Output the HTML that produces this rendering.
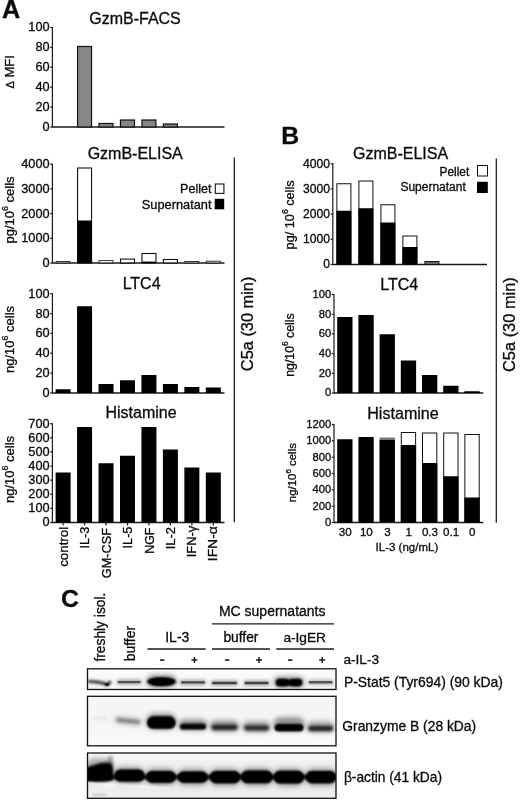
<!DOCTYPE html>
<html><head><meta charset="utf-8"><title>Figure</title>
<style>
html,body{margin:0;padding:0;background:#fff;}
body{width:520px;height:802px;overflow:hidden;font-family:"Liberation Sans",sans-serif;}
svg{display:block;filter:blur(0.35px);}
svg text{font-family:"Liberation Sans",sans-serif;fill:#0a0a0a;stroke:#0a0a0a;stroke-width:0.3px;}
</style></head><body>
<svg width="520" height="802" viewBox="0 0 520 802">
<defs>
<filter id="b05" x="-30%" y="-150%" width="160%" height="400%"><feGaussianBlur stdDeviation="0.55"/></filter>
<filter id="b08" x="-30%" y="-150%" width="160%" height="400%"><feGaussianBlur stdDeviation="0.75"/></filter>
<filter id="b1" x="-30%" y="-100%" width="160%" height="300%"><feGaussianBlur stdDeviation="0.9"/></filter>
<filter id="b2" x="-30%" y="-150%" width="160%" height="400%"><feGaussianBlur stdDeviation="1.4"/></filter>
<filter id="b3" x="-40%" y="-150%" width="180%" height="400%"><feGaussianBlur stdDeviation="2.4"/></filter>
<linearGradient id="g1" x1="0" y1="0" x2="0" y2="1"><stop offset="0" stop-color="#fdfdfd"/><stop offset="1" stop-color="#f3f3f3"/></linearGradient>
<linearGradient id="g2" x1="0" y1="0" x2="0" y2="1"><stop offset="0" stop-color="#f6f6f6"/><stop offset="0.5" stop-color="#f4f4f4"/><stop offset="1" stop-color="#fafafa"/></linearGradient>
<linearGradient id="g3" x1="0" y1="0" x2="0" y2="1"><stop offset="0" stop-color="#f7f7f7"/><stop offset="0.35" stop-color="#ebebeb"/><stop offset="0.7" stop-color="#e9e9e9"/><stop offset="1" stop-color="#efefef"/></linearGradient>
<clipPath id="c1"><rect x="87.5" y="668.8" width="248.5" height="20.700000000000045"/></clipPath>
<clipPath id="c2"><rect x="87.5" y="696.3" width="248.5" height="49.5"/></clipPath>
<clipPath id="c3"><rect x="87.5" y="753.0" width="248.5" height="45.299999999999955"/></clipPath>
<clipPath id="call"><rect x="87.5" y="668.8" width="248.5" height="20.700000000000045"/><rect x="87.5" y="696.3" width="248.5" height="49.5"/><rect x="87.5" y="753.0" width="248.5" height="45.299999999999955"/></clipPath>
</defs>
<rect width="520" height="802" fill="#fff"/>
<text x="2.0" y="18.4" font-size="25.2" text-anchor="start" font-weight="bold">A</text>
<text x="135" y="23.7" font-size="16" text-anchor="middle" font-weight="normal">GzmB-FACS</text>
<line x1="52.4" y1="26.9" x2="52.4" y2="127.6" stroke="#1a1a1a" stroke-width="1.2"/>
<line x1="50.199999999999996" y1="127.0" x2="52.4" y2="127.0" stroke="#1a1a1a" stroke-width="1.2"/>
<text x="49.599999999999994" y="130.99" font-size="12.75" text-anchor="end" font-weight="normal">0</text>
<line x1="50.199999999999996" y1="107.1" x2="52.4" y2="107.1" stroke="#1a1a1a" stroke-width="1.2"/>
<text x="49.599999999999994" y="111.09" font-size="12.75" text-anchor="end" font-weight="normal">20</text>
<line x1="50.199999999999996" y1="87.2" x2="52.4" y2="87.2" stroke="#1a1a1a" stroke-width="1.2"/>
<text x="49.599999999999994" y="91.19000000000001" font-size="12.75" text-anchor="end" font-weight="normal">40</text>
<line x1="50.199999999999996" y1="67.3" x2="52.4" y2="67.3" stroke="#1a1a1a" stroke-width="1.2"/>
<text x="49.599999999999994" y="71.29" font-size="12.75" text-anchor="end" font-weight="normal">60</text>
<line x1="50.199999999999996" y1="47.400000000000006" x2="52.4" y2="47.400000000000006" stroke="#1a1a1a" stroke-width="1.2"/>
<text x="49.599999999999994" y="51.39000000000001" font-size="12.75" text-anchor="end" font-weight="normal">80</text>
<line x1="50.199999999999996" y1="27.5" x2="52.4" y2="27.5" stroke="#1a1a1a" stroke-width="1.2"/>
<text x="49.599999999999994" y="31.490000000000002" font-size="12.75" text-anchor="end" font-weight="normal">100</text>
<line x1="52.4" y1="127.0" x2="224.5" y2="126.9" stroke="#1a1a1a" stroke-width="1.45"/>
<rect x="77.56" y="46.50" width="14.00" height="80.50" fill="#868686" stroke="#111" stroke-width="1.2"/>
<rect x="99.02" y="123.50" width="14.00" height="3.50" fill="#868686" stroke="#111" stroke-width="1.2"/>
<rect x="120.48" y="120.00" width="14.00" height="7.00" fill="#868686" stroke="#111" stroke-width="1.2"/>
<rect x="141.94" y="120.00" width="14.00" height="7.00" fill="#868686" stroke="#111" stroke-width="1.2"/>
<rect x="163.40" y="124.00" width="14.00" height="3.00" fill="#868686" stroke="#111" stroke-width="1.2"/>
<text x="14.4" y="71.8" font-size="13.0" text-anchor="middle" font-weight="normal" transform="rotate(-90 14.4 71.8)"><tspan font-size="11">&#916;</tspan> MFI</text>
<text x="135.2" y="159.0" font-size="16" text-anchor="middle" font-weight="normal">GzmB-ELISA</text>
<line x1="52.4" y1="163.65" x2="52.4" y2="263.6" stroke="#1a1a1a" stroke-width="1.2"/>
<line x1="50.199999999999996" y1="263.0" x2="52.4" y2="263.0" stroke="#1a1a1a" stroke-width="1.2"/>
<text x="49.599999999999994" y="266.98999999999995" font-size="12.75" text-anchor="end" font-weight="normal">0</text>
<line x1="50.199999999999996" y1="238.3125" x2="52.4" y2="238.3125" stroke="#1a1a1a" stroke-width="1.2"/>
<text x="49.599999999999994" y="242.3025" font-size="12.75" text-anchor="end" font-weight="normal">1000</text>
<line x1="50.199999999999996" y1="213.625" x2="52.4" y2="213.625" stroke="#1a1a1a" stroke-width="1.2"/>
<text x="49.599999999999994" y="217.615" font-size="12.75" text-anchor="end" font-weight="normal">2000</text>
<line x1="50.199999999999996" y1="188.9375" x2="52.4" y2="188.9375" stroke="#1a1a1a" stroke-width="1.2"/>
<text x="49.599999999999994" y="192.9275" font-size="12.75" text-anchor="end" font-weight="normal">3000</text>
<line x1="50.199999999999996" y1="164.25" x2="52.4" y2="164.25" stroke="#1a1a1a" stroke-width="1.2"/>
<text x="49.599999999999994" y="168.24" font-size="12.75" text-anchor="end" font-weight="normal">4000</text>
<line x1="52.4" y1="263.0" x2="224.5" y2="262.9" stroke="#1a1a1a" stroke-width="1.45"/>
<rect x="56.10" y="261.50" width="14.00" height="1.50" fill="#fff" stroke="#222" stroke-width="0.9"/>
<rect x="56.10" y="262.80" width="14.00" height="0.30" fill="#000" stroke="none" stroke-width="0"/>
<rect x="77.56" y="168.00" width="14.00" height="95.00" fill="#fff" stroke="#111" stroke-width="1.1"/>
<rect x="77.56" y="220.50" width="14.00" height="42.50" fill="#000" stroke="none" stroke-width="0"/>
<rect x="99.02" y="260.60" width="14.00" height="2.40" fill="#fff" stroke="#222" stroke-width="0.9"/>
<rect x="99.02" y="262.80" width="14.00" height="0.30" fill="#000" stroke="none" stroke-width="0"/>
<rect x="120.48" y="259.10" width="14.00" height="3.90" fill="#fff" stroke="#111" stroke-width="1.1"/>
<rect x="120.48" y="262.80" width="14.00" height="0.30" fill="#000" stroke="none" stroke-width="0"/>
<rect x="141.94" y="253.50" width="14.00" height="9.50" fill="#fff" stroke="#111" stroke-width="1.1"/>
<rect x="141.94" y="261.60" width="14.00" height="1.40" fill="#000" stroke="none" stroke-width="0"/>
<rect x="163.40" y="259.50" width="14.00" height="3.50" fill="#fff" stroke="#111" stroke-width="1.1"/>
<rect x="163.40" y="262.80" width="14.00" height="0.30" fill="#000" stroke="none" stroke-width="0"/>
<rect x="184.86" y="261.50" width="14.00" height="1.50" fill="#fff" stroke="#222" stroke-width="0.9"/>
<rect x="184.86" y="262.80" width="14.00" height="0.30" fill="#000" stroke="none" stroke-width="0"/>
<rect x="206.32" y="261.20" width="14.00" height="1.80" fill="#fff" stroke="#222" stroke-width="0.9"/>
<rect x="206.32" y="262.80" width="14.00" height="0.30" fill="#000" stroke="none" stroke-width="0"/>
<text x="14.2" y="210" font-size="13" text-anchor="middle" font-weight="normal" transform="rotate(-90 14.2 210)">pg/10<tspan font-size="8.8" dy="-6.4">6</tspan><tspan dy="6.4"> cells</tspan></text>
<text x="211.5" y="193" font-size="12.6" text-anchor="end" font-weight="normal">Pellet</text>
<rect x="215.30" y="184.00" width="8.60" height="9.40" fill="#fff" stroke="#111" stroke-width="1.1"/>
<text x="211.5" y="208.8" font-size="12.8" text-anchor="end" font-weight="normal">Supernatant</text>
<rect x="214.70" y="198.80" width="9.50" height="10.50" fill="#000" stroke="none" stroke-width="0"/>
<text x="141.6" y="289.3" font-size="16" text-anchor="middle" font-weight="normal">LTC4</text>
<line x1="52.4" y1="293.15" x2="52.4" y2="393.6" stroke="#1a1a1a" stroke-width="1.2"/>
<line x1="50.199999999999996" y1="393.0" x2="52.4" y2="393.0" stroke="#1a1a1a" stroke-width="1.2"/>
<text x="49.599999999999994" y="396.98999999999995" font-size="12.75" text-anchor="end" font-weight="normal">0</text>
<line x1="50.199999999999996" y1="373.15" x2="52.4" y2="373.15" stroke="#1a1a1a" stroke-width="1.2"/>
<text x="49.599999999999994" y="377.13999999999993" font-size="12.75" text-anchor="end" font-weight="normal">20</text>
<line x1="50.199999999999996" y1="353.3" x2="52.4" y2="353.3" stroke="#1a1a1a" stroke-width="1.2"/>
<text x="49.599999999999994" y="357.28999999999996" font-size="12.75" text-anchor="end" font-weight="normal">40</text>
<line x1="50.199999999999996" y1="333.45" x2="52.4" y2="333.45" stroke="#1a1a1a" stroke-width="1.2"/>
<text x="49.599999999999994" y="337.43999999999994" font-size="12.75" text-anchor="end" font-weight="normal">60</text>
<line x1="50.199999999999996" y1="313.6" x2="52.4" y2="313.6" stroke="#1a1a1a" stroke-width="1.2"/>
<text x="49.599999999999994" y="317.59" font-size="12.75" text-anchor="end" font-weight="normal">80</text>
<line x1="50.199999999999996" y1="293.75" x2="52.4" y2="293.75" stroke="#1a1a1a" stroke-width="1.2"/>
<text x="49.599999999999994" y="297.73999999999995" font-size="12.75" text-anchor="end" font-weight="normal">100</text>
<line x1="52.4" y1="393.0" x2="224.5" y2="392.9" stroke="#1a1a1a" stroke-width="1.45"/>
<rect x="55.60" y="389.25" width="15.00" height="3.75" fill="#000" stroke="none" stroke-width="0"/>
<rect x="77.06" y="306.25" width="15.00" height="86.75" fill="#000" stroke="none" stroke-width="0"/>
<rect x="98.52" y="384.00" width="15.00" height="9.00" fill="#000" stroke="none" stroke-width="0"/>
<rect x="119.98" y="380.25" width="15.00" height="12.75" fill="#000" stroke="none" stroke-width="0"/>
<rect x="141.44" y="375.00" width="15.00" height="18.00" fill="#000" stroke="none" stroke-width="0"/>
<rect x="162.90" y="384.00" width="15.00" height="9.00" fill="#000" stroke="none" stroke-width="0"/>
<rect x="184.36" y="387.00" width="15.00" height="6.00" fill="#000" stroke="none" stroke-width="0"/>
<rect x="205.82" y="387.50" width="15.00" height="5.50" fill="#000" stroke="none" stroke-width="0"/>
<text x="14.2" y="339.5" font-size="13" text-anchor="middle" font-weight="normal" transform="rotate(-90 14.2 339.5)">ng/10<tspan font-size="8.8" dy="-6.4">6</tspan><tspan dy="6.4"> cells</tspan></text>
<text x="141" y="418" font-size="16" text-anchor="middle" font-weight="normal">Histamine</text>
<line x1="52.4" y1="423.15" x2="52.4" y2="523.1" stroke="#1a1a1a" stroke-width="1.2"/>
<line x1="50.199999999999996" y1="522.5" x2="52.4" y2="522.5" stroke="#1a1a1a" stroke-width="1.2"/>
<text x="49.599999999999994" y="526.49" font-size="12.75" text-anchor="end" font-weight="normal">0</text>
<line x1="50.199999999999996" y1="508.39285714285717" x2="52.4" y2="508.39285714285717" stroke="#1a1a1a" stroke-width="1.2"/>
<text x="49.599999999999994" y="512.3828571428571" font-size="12.75" text-anchor="end" font-weight="normal">100</text>
<line x1="50.199999999999996" y1="494.2857142857143" x2="52.4" y2="494.2857142857143" stroke="#1a1a1a" stroke-width="1.2"/>
<text x="49.599999999999994" y="498.27571428571423" font-size="12.75" text-anchor="end" font-weight="normal">200</text>
<line x1="50.199999999999996" y1="480.17857142857144" x2="52.4" y2="480.17857142857144" stroke="#1a1a1a" stroke-width="1.2"/>
<text x="49.599999999999994" y="484.1685714285714" font-size="12.75" text-anchor="end" font-weight="normal">300</text>
<line x1="50.199999999999996" y1="466.07142857142856" x2="52.4" y2="466.07142857142856" stroke="#1a1a1a" stroke-width="1.2"/>
<text x="49.599999999999994" y="470.0614285714285" font-size="12.75" text-anchor="end" font-weight="normal">400</text>
<line x1="50.199999999999996" y1="451.9642857142857" x2="52.4" y2="451.9642857142857" stroke="#1a1a1a" stroke-width="1.2"/>
<text x="49.599999999999994" y="455.9542857142857" font-size="12.75" text-anchor="end" font-weight="normal">500</text>
<line x1="50.199999999999996" y1="437.8571428571429" x2="52.4" y2="437.8571428571429" stroke="#1a1a1a" stroke-width="1.2"/>
<text x="49.599999999999994" y="441.84714285714284" font-size="12.75" text-anchor="end" font-weight="normal">600</text>
<line x1="50.199999999999996" y1="423.75" x2="52.4" y2="423.75" stroke="#1a1a1a" stroke-width="1.2"/>
<text x="49.599999999999994" y="427.73999999999995" font-size="12.75" text-anchor="end" font-weight="normal">700</text>
<line x1="52.4" y1="522.5" x2="224.5" y2="522.4" stroke="#1a1a1a" stroke-width="1.45"/>
<rect x="55.60" y="472.50" width="15.00" height="50.00" fill="#000" stroke="none" stroke-width="0"/>
<rect x="77.06" y="427.00" width="15.00" height="95.50" fill="#000" stroke="none" stroke-width="0"/>
<rect x="98.52" y="463.25" width="15.00" height="59.25" fill="#000" stroke="none" stroke-width="0"/>
<rect x="119.98" y="455.75" width="15.00" height="66.75" fill="#000" stroke="none" stroke-width="0"/>
<rect x="141.44" y="427.00" width="15.00" height="95.50" fill="#000" stroke="none" stroke-width="0"/>
<rect x="162.90" y="449.50" width="15.00" height="73.00" fill="#000" stroke="none" stroke-width="0"/>
<rect x="184.36" y="467.50" width="15.00" height="55.00" fill="#000" stroke="none" stroke-width="0"/>
<rect x="205.82" y="472.50" width="15.00" height="50.00" fill="#000" stroke="none" stroke-width="0"/>
<text x="14.2" y="469.5" font-size="13" text-anchor="middle" font-weight="normal" transform="rotate(-90 14.2 469.5)">ng/10<tspan font-size="8.8" dy="-6.4">6</tspan><tspan dy="6.4"> cells</tspan></text>
<line x1="63.1" y1="522.5" x2="63.1" y2="525.5" stroke="#1a1a1a" stroke-width="1.2"/>
<text x="67.7" y="526.8" font-size="12.8" text-anchor="end" font-weight="normal" transform="rotate(-90 67.7 526.8)" textLength="40" lengthAdjust="spacingAndGlyphs">control</text>
<line x1="84.56" y1="522.5" x2="84.56" y2="525.5" stroke="#1a1a1a" stroke-width="1.2"/>
<text x="89.16" y="526.8" font-size="12.8" text-anchor="end" font-weight="normal" transform="rotate(-90 89.16 526.8)" textLength="21.8" lengthAdjust="spacingAndGlyphs">IL-3</text>
<line x1="106.02000000000001" y1="522.5" x2="106.02000000000001" y2="525.5" stroke="#1a1a1a" stroke-width="1.2"/>
<text x="110.92000000000002" y="528.0" font-size="12.8" text-anchor="end" font-weight="normal" transform="rotate(-90 110.92000000000002 528.0)" textLength="50.2" lengthAdjust="spacingAndGlyphs">GM-CSF</text>
<line x1="127.47999999999999" y1="522.5" x2="127.47999999999999" y2="525.5" stroke="#1a1a1a" stroke-width="1.2"/>
<text x="132.07999999999998" y="526.6" font-size="12.8" text-anchor="end" font-weight="normal" transform="rotate(-90 132.07999999999998 526.6)" textLength="21.8" lengthAdjust="spacingAndGlyphs">IL-5</text>
<line x1="148.94" y1="522.5" x2="148.94" y2="525.5" stroke="#1a1a1a" stroke-width="1.2"/>
<text x="153.54" y="527.6" font-size="12.8" text-anchor="end" font-weight="normal" transform="rotate(-90 153.54 527.6)" textLength="26.2" lengthAdjust="spacingAndGlyphs">NGF</text>
<line x1="170.4" y1="522.5" x2="170.4" y2="525.5" stroke="#1a1a1a" stroke-width="1.2"/>
<text x="175.0" y="527.0" font-size="12.8" text-anchor="end" font-weight="normal" transform="rotate(-90 175.0 527.0)" textLength="22.2" lengthAdjust="spacingAndGlyphs">IL-2</text>
<line x1="191.85999999999999" y1="522.5" x2="191.85999999999999" y2="525.5" stroke="#1a1a1a" stroke-width="1.2"/>
<text x="196.45999999999998" y="525.7" font-size="12.8" text-anchor="end" font-weight="normal" transform="rotate(-90 196.45999999999998 525.7)" textLength="31.6" lengthAdjust="spacingAndGlyphs">IFN-&#947;</text>
<line x1="213.32" y1="522.5" x2="213.32" y2="525.5" stroke="#1a1a1a" stroke-width="1.2"/>
<text x="217.32" y="526.2" font-size="12.8" text-anchor="end" font-weight="normal" transform="rotate(-90 217.32 526.2)" textLength="35.0" lengthAdjust="spacingAndGlyphs">IFN-&#945;</text>
<line x1="234.3" y1="157.5" x2="234.3" y2="522.3" stroke="#1a1a1a" stroke-width="1.25"/>
<text x="252.9" y="323.9" font-size="16.35" text-anchor="middle" font-weight="normal" transform="rotate(-90 252.9 323.9)">C5a (30 min)</text>
<text x="281.3" y="144.3" font-size="24.8" text-anchor="start" font-weight="bold">B</text>
<text x="400.6" y="158.75" font-size="16" text-anchor="middle" font-weight="normal">GzmB-ELISA</text>
<line x1="332.8" y1="163.15" x2="332.8" y2="265.1" stroke="#1a1a1a" stroke-width="1.2"/>
<line x1="330.6" y1="264.5" x2="332.8" y2="264.5" stroke="#1a1a1a" stroke-width="1.2"/>
<text x="330.0" y="268.256" font-size="12.1" text-anchor="end" font-weight="normal">0</text>
<line x1="330.6" y1="239.3125" x2="332.8" y2="239.3125" stroke="#1a1a1a" stroke-width="1.2"/>
<text x="330.0" y="243.0685" font-size="12.1" text-anchor="end" font-weight="normal">1000</text>
<line x1="330.6" y1="214.125" x2="332.8" y2="214.125" stroke="#1a1a1a" stroke-width="1.2"/>
<text x="330.0" y="217.881" font-size="12.1" text-anchor="end" font-weight="normal">2000</text>
<line x1="330.6" y1="188.9375" x2="332.8" y2="188.9375" stroke="#1a1a1a" stroke-width="1.2"/>
<text x="330.0" y="192.6935" font-size="12.1" text-anchor="end" font-weight="normal">3000</text>
<line x1="330.6" y1="163.75" x2="332.8" y2="163.75" stroke="#1a1a1a" stroke-width="1.2"/>
<text x="330.0" y="167.506" font-size="12.1" text-anchor="end" font-weight="normal">4000</text>
<line x1="332.8" y1="264.5" x2="487" y2="264.4" stroke="#1a1a1a" stroke-width="1.45"/>
<rect x="336.90" y="183.75" width="14.00" height="80.75" fill="#fff" stroke="#111" stroke-width="1"/>
<rect x="336.40" y="210.75" width="15.00" height="53.75" fill="#000" stroke="none" stroke-width="0"/>
<rect x="358.90" y="181.00" width="14.00" height="83.50" fill="#fff" stroke="#111" stroke-width="1"/>
<rect x="358.40" y="208.25" width="15.00" height="56.25" fill="#000" stroke="none" stroke-width="0"/>
<rect x="380.90" y="204.75" width="14.00" height="59.75" fill="#fff" stroke="#111" stroke-width="1"/>
<rect x="380.40" y="222.50" width="15.00" height="42.00" fill="#000" stroke="none" stroke-width="0"/>
<rect x="402.90" y="236.00" width="14.00" height="28.50" fill="#fff" stroke="#111" stroke-width="1"/>
<rect x="402.40" y="247.00" width="15.00" height="17.50" fill="#000" stroke="none" stroke-width="0"/>
<rect x="424.90" y="261.55" width="14.00" height="2.95" fill="#6a6a6a" stroke="#111" stroke-width="1"/>
<text x="294.4" y="214.9" font-size="12.7" text-anchor="middle" font-weight="normal" transform="rotate(-90 294.4 214.9)">pg/ 10<tspan font-size="8.6" dy="-6.2">6</tspan><tspan dy="6.2"> cells</tspan></text>
<text x="469.3" y="175.6" font-size="11.9" text-anchor="end" font-weight="normal">Pellet</text>
<rect x="477.50" y="165.50" width="10.00" height="10.50" fill="#fff" stroke="#111" stroke-width="1"/>
<text x="465.8" y="191.1" font-size="12.0" text-anchor="end" font-weight="normal">Supernatant</text>
<rect x="477.00" y="181.80" width="10.80" height="11.20" fill="#000" stroke="none" stroke-width="0"/>
<text x="399.3" y="289.5" font-size="16" text-anchor="middle" font-weight="normal">LTC4</text>
<line x1="334.0" y1="293.9" x2="334.0" y2="393.6" stroke="#1a1a1a" stroke-width="1.2"/>
<line x1="331.8" y1="393.0" x2="334.0" y2="393.0" stroke="#1a1a1a" stroke-width="1.2"/>
<text x="331.2" y="396.43199999999996" font-size="11.2" text-anchor="end" font-weight="normal">0</text>
<line x1="331.8" y1="373.3" x2="334.0" y2="373.3" stroke="#1a1a1a" stroke-width="1.2"/>
<text x="331.2" y="376.73199999999997" font-size="11.2" text-anchor="end" font-weight="normal">20</text>
<line x1="331.8" y1="353.6" x2="334.0" y2="353.6" stroke="#1a1a1a" stroke-width="1.2"/>
<text x="331.2" y="357.032" font-size="11.2" text-anchor="end" font-weight="normal">40</text>
<line x1="331.8" y1="333.9" x2="334.0" y2="333.9" stroke="#1a1a1a" stroke-width="1.2"/>
<text x="331.2" y="337.33199999999994" font-size="11.2" text-anchor="end" font-weight="normal">60</text>
<line x1="331.8" y1="314.2" x2="334.0" y2="314.2" stroke="#1a1a1a" stroke-width="1.2"/>
<text x="331.2" y="317.63199999999995" font-size="11.2" text-anchor="end" font-weight="normal">80</text>
<line x1="331.8" y1="294.5" x2="334.0" y2="294.5" stroke="#1a1a1a" stroke-width="1.2"/>
<text x="331.2" y="297.93199999999996" font-size="11.2" text-anchor="end" font-weight="normal">100</text>
<line x1="334.0" y1="393.0" x2="483.3" y2="392.9" stroke="#1a1a1a" stroke-width="1.45"/>
<rect x="337.20" y="317.00" width="15.30" height="76.00" fill="#000" stroke="none" stroke-width="0"/>
<rect x="358.40" y="315.00" width="15.30" height="78.00" fill="#000" stroke="none" stroke-width="0"/>
<rect x="379.60" y="334.25" width="15.30" height="58.75" fill="#000" stroke="none" stroke-width="0"/>
<rect x="400.80" y="360.50" width="15.30" height="32.50" fill="#000" stroke="none" stroke-width="0"/>
<rect x="422.00" y="375.00" width="15.30" height="18.00" fill="#000" stroke="none" stroke-width="0"/>
<rect x="443.20" y="385.75" width="15.30" height="7.25" fill="#000" stroke="none" stroke-width="0"/>
<rect x="464.40" y="391.25" width="15.30" height="1.75" fill="#000" stroke="none" stroke-width="0"/>
<text x="294" y="345" font-size="12.3" text-anchor="middle" font-weight="normal" transform="rotate(-90 294 345)">ng/10<tspan font-size="8.4" dy="-6.0">6</tspan><tspan dy="6.0"> cells</tspan></text>
<text x="403.0" y="419.2" font-size="16.1" text-anchor="middle" font-weight="normal">Histamine</text>
<line x1="334.0" y1="423.9" x2="334.0" y2="523.1" stroke="#1a1a1a" stroke-width="1.2"/>
<line x1="331.8" y1="522.5" x2="334.0" y2="522.5" stroke="#1a1a1a" stroke-width="1.2"/>
<text x="331.2" y="525.932" font-size="11.2" text-anchor="end" font-weight="normal">0</text>
<line x1="331.8" y1="506.1666666666667" x2="334.0" y2="506.1666666666667" stroke="#1a1a1a" stroke-width="1.2"/>
<text x="331.2" y="509.59866666666665" font-size="11.2" text-anchor="end" font-weight="normal">200</text>
<line x1="331.8" y1="489.8333333333333" x2="334.0" y2="489.8333333333333" stroke="#1a1a1a" stroke-width="1.2"/>
<text x="331.2" y="493.2653333333333" font-size="11.2" text-anchor="end" font-weight="normal">400</text>
<line x1="331.8" y1="473.5" x2="334.0" y2="473.5" stroke="#1a1a1a" stroke-width="1.2"/>
<text x="331.2" y="476.93199999999996" font-size="11.2" text-anchor="end" font-weight="normal">600</text>
<line x1="331.8" y1="457.1666666666667" x2="334.0" y2="457.1666666666667" stroke="#1a1a1a" stroke-width="1.2"/>
<text x="331.2" y="460.59866666666665" font-size="11.2" text-anchor="end" font-weight="normal">800</text>
<line x1="331.8" y1="440.8333333333333" x2="334.0" y2="440.8333333333333" stroke="#1a1a1a" stroke-width="1.2"/>
<text x="331.2" y="444.2653333333333" font-size="11.2" text-anchor="end" font-weight="normal">1000</text>
<line x1="331.8" y1="424.5" x2="334.0" y2="424.5" stroke="#1a1a1a" stroke-width="1.2"/>
<text x="331.2" y="427.93199999999996" font-size="11.2" text-anchor="end" font-weight="normal">1200</text>
<line x1="334.0" y1="522.5" x2="483.3" y2="522.4" stroke="#1a1a1a" stroke-width="1.45"/>
<rect x="337.20" y="439.25" width="15.30" height="83.25" fill="#000" stroke="none" stroke-width="0"/>
<rect x="358.40" y="437.00" width="15.30" height="85.50" fill="#000" stroke="none" stroke-width="0"/>
<rect x="379.60" y="437.50" width="15.30" height="85.00" fill="#777" stroke="none" stroke-width="0"/>
<rect x="379.60" y="440.00" width="15.30" height="82.50" fill="#000" stroke="none" stroke-width="0"/>
<rect x="401.30" y="432.50" width="14.30" height="90.00" fill="#fff" stroke="#111" stroke-width="1"/>
<rect x="400.80" y="445.00" width="15.30" height="77.50" fill="#000" stroke="none" stroke-width="0"/>
<rect x="422.50" y="433.00" width="14.30" height="89.50" fill="#fff" stroke="#111" stroke-width="1"/>
<rect x="422.00" y="463.00" width="15.30" height="59.50" fill="#000" stroke="none" stroke-width="0"/>
<rect x="443.70" y="433.00" width="14.30" height="89.50" fill="#fff" stroke="#111" stroke-width="1"/>
<rect x="443.20" y="476.25" width="15.30" height="46.25" fill="#000" stroke="none" stroke-width="0"/>
<rect x="464.90" y="434.50" width="14.30" height="88.00" fill="#fff" stroke="#111" stroke-width="1"/>
<rect x="464.40" y="497.50" width="15.30" height="25.00" fill="#000" stroke="none" stroke-width="0"/>
<text x="296.3" y="472.6" font-size="11.45" text-anchor="middle" font-weight="normal" transform="rotate(-90 296.3 472.6)">ng/10<tspan font-size="7.9" dy="-5.6">6</tspan><tspan dy="5.6"> cells</tspan></text>
<text x="345.15" y="535.8" font-size="11.6" text-anchor="middle" font-weight="normal">30</text>
<text x="366.34999999999997" y="535.8" font-size="11.6" text-anchor="middle" font-weight="normal">10</text>
<text x="387.54999999999995" y="535.8" font-size="11.6" text-anchor="middle" font-weight="normal">3</text>
<text x="408.74999999999994" y="535.8" font-size="11.6" text-anchor="middle" font-weight="normal">1</text>
<text x="429.95" y="535.8" font-size="11.6" text-anchor="middle" font-weight="normal">0.3</text>
<text x="451.15" y="535.8" font-size="11.6" text-anchor="middle" font-weight="normal">0.1</text>
<text x="472.34999999999997" y="535.8" font-size="11.6" text-anchor="middle" font-weight="normal">0</text>
<text x="406.9" y="551.4" font-size="11.5" text-anchor="middle" font-weight="normal">IL-3 (ng/mL)</text>
<line x1="496.3" y1="158.5" x2="496.3" y2="522.7" stroke="#1a1a1a" stroke-width="1.25"/>
<text x="515.3" y="324.6" font-size="16.4" text-anchor="middle" font-weight="normal" transform="rotate(-90 515.3 324.6)">C5a (30 min)</text>
<text x="61" y="607" font-size="24.8" text-anchor="start" font-weight="bold">C</text>
<text x="105.3" y="592.6" font-size="13.8" text-anchor="end" font-weight="normal" transform="rotate(-90 105.3 592.6)">freshly isol.</text>
<text x="134.8" y="625.8" font-size="14.0" text-anchor="end" font-weight="normal" transform="rotate(-90 134.8 625.8)">buffer</text>
<text x="177.3" y="642.4" font-size="14.0" text-anchor="middle" font-weight="normal">IL-3</text>
<text x="272.2" y="616.1" font-size="14.0" text-anchor="middle" font-weight="normal">MC supernatants</text>
<text x="240.9" y="642.4" font-size="13.8" text-anchor="middle" font-weight="normal">buffer</text>
<text x="304.7" y="642.4" font-size="13.7" text-anchor="middle" font-weight="normal">a-IgER</text>
<line x1="212" y1="623.8" x2="334" y2="623.8" stroke="#1a1a1a" stroke-width="1.3"/>
<line x1="147.5" y1="649.0" x2="205.7" y2="649.0" stroke="#1a1a1a" stroke-width="1.3"/>
<line x1="212" y1="649.0" x2="270" y2="649.0" stroke="#1a1a1a" stroke-width="1.3"/>
<line x1="276.3" y1="649.0" x2="334" y2="649.0" stroke="#1a1a1a" stroke-width="1.3"/>
<line x1="160.0" y1="660.1" x2="164.39999999999998" y2="660.1" stroke="#1a1a1a" stroke-width="1.6"/>
<line x1="191.4" y1="659.9" x2="197.4" y2="659.9" stroke="#1a1a1a" stroke-width="1.5"/>
<line x1="194.4" y1="656.9" x2="194.4" y2="662.9" stroke="#1a1a1a" stroke-width="1.5"/>
<line x1="225.0" y1="660.1" x2="229.39999999999998" y2="660.1" stroke="#1a1a1a" stroke-width="1.6"/>
<line x1="256" y1="659.9" x2="262" y2="659.9" stroke="#1a1a1a" stroke-width="1.5"/>
<line x1="259" y1="656.9" x2="259" y2="662.9" stroke="#1a1a1a" stroke-width="1.5"/>
<line x1="288.0" y1="660.1" x2="292.4" y2="660.1" stroke="#1a1a1a" stroke-width="1.6"/>
<line x1="319.2" y1="659.9" x2="325.2" y2="659.9" stroke="#1a1a1a" stroke-width="1.5"/>
<line x1="322.2" y1="656.9" x2="322.2" y2="662.9" stroke="#1a1a1a" stroke-width="1.5"/>
<text x="343.4" y="664" font-size="13.7" text-anchor="start" font-weight="normal">a-IL-3</text>
<text x="343.9" y="687.3" font-size="13.9" text-anchor="start" font-weight="normal">P-Stat5 (Tyr694) (90 kDa)</text>
<text x="342.3" y="730.8" font-size="13.85" text-anchor="start" font-weight="normal">Granzyme B (28 kDa)</text>
<text x="343.9" y="781.8" font-size="13.75" text-anchor="start" font-weight="normal">&#946;-actin (41 kDa)</text>
<g clip-path="url(#call)">
<rect x="87.5" y="668.8" width="248.5" height="20.700000000000045" fill="url(#g1)"/>
<rect x="87.5" y="696.3" width="248.5" height="49.5" fill="url(#g2)"/>
<rect x="87.5" y="753.0" width="248.5" height="45.299999999999955" fill="url(#g3)"/>
<path d="M89.5 681.4 C95 681.8 100 682.4 104 683.4 L107 684.8 L109.8 682.4" stroke="#000" stroke-width="4.2" fill="none" opacity="0.32" stroke-linecap="round" filter="url(#b2)"/>
<path d="M89.5 681.4 C95 681.8 100 682.4 104 683.4 L107 684.8 L109.8 682.4" stroke="#000" stroke-width="2.4" fill="none" opacity="0.7" stroke-linecap="round" filter="url(#b1)"/>
<rect x="104.8" y="682.9" width="4.5" height="2.8" rx="1.4" fill="#000" opacity="0.7" filter="url(#b08)"/>
<rect x="116.2" y="679.0" width="26.0" height="6.0" rx="3.0" fill="#000" opacity="0.26" filter="url(#b2)"/>
<rect x="117.7" y="680.9" width="23.0" height="2.3" rx="1.1" fill="#000" opacity="0.55" filter="url(#b08)"/>
<rect x="146.5" y="674.5" width="30.0" height="13.0" rx="6.5" fill="#000" opacity="0.35" filter="url(#b3)"/>
<ellipse cx="161.5" cy="681.6" rx="14.6" ry="4.7" fill="#000" filter="url(#b1)"/>
<ellipse cx="161.5" cy="681.8" rx="12.5" ry="3.8" fill="#000" filter="url(#b08)"/>
<rect x="179.5" y="679.4" width="27.0" height="6.0" rx="3.0" fill="#000" opacity="0.28" filter="url(#b2)"/>
<rect x="181.0" y="681.2" width="24.0" height="2.4" rx="1.2" fill="#000" opacity="0.6" filter="url(#b08)"/>
<rect x="210.5" y="680.0" width="28.0" height="6.0" rx="3.0" fill="#000" opacity="0.28" filter="url(#b2)"/>
<rect x="212.0" y="681.8" width="25.0" height="2.4" rx="1.2" fill="#000" opacity="0.62" filter="url(#b08)"/>
<rect x="243.1" y="680.0" width="27.0" height="6.0" rx="3.0" fill="#000" opacity="0.28" filter="url(#b2)"/>
<rect x="244.6" y="681.8" width="24.0" height="2.4" rx="1.2" fill="#000" opacity="0.62" filter="url(#b08)"/>
<rect x="273.5" y="676.0" width="31.0" height="12.0" rx="6.0" fill="#000" opacity="0.35" filter="url(#b3)"/>
<rect x="275.6" y="678.7" width="13.5" height="7.6" rx="3.8" fill="#000" opacity="1.0" filter="url(#b1)"/>
<rect x="288.9" y="678.7" width="13.5" height="7.6" rx="3.8" fill="#000" opacity="1.0" filter="url(#b1)"/>
<rect x="277.0" y="680.1" width="24.0" height="5.2" rx="2.6" fill="#000" opacity="1.0" filter="url(#b1)"/>
<rect x="307.7" y="679.5" width="26.0" height="5.5" rx="2.8" fill="#000" opacity="0.25" filter="url(#b2)"/>
<rect x="308.7" y="681.1" width="24.0" height="2.3" rx="1.1" fill="#000" opacity="0.55" filter="url(#b08)"/>
<rect x="93.0" y="716.5" width="14.0" height="3.0" rx="1.5" fill="#000" opacity="0.06" filter="url(#b2)"/>
<g transform="rotate(6 128 720.5)">
<rect x="114.5" y="716.9" width="27.0" height="7.5" rx="3.8" fill="#000" opacity="0.22" filter="url(#b3)"/>
<rect x="116.5" y="718.9" width="24.0" height="4.2" rx="2.1" fill="#000" opacity="0.33" filter="url(#b2)"/>
</g>
<rect x="145.8" y="713.0" width="31.0" height="17.0" rx="8.5" fill="#000" opacity="0.35" filter="url(#b3)"/>
<rect x="147.3" y="716.0" width="28.0" height="12.5" rx="6.2" fill="#000" opacity="1.0" filter="url(#b1)"/>
<rect x="147.8" y="719.0" width="27.0" height="9.0" rx="4.5" fill="#000" opacity="1.0" filter="url(#b1)"/>
<rect x="178.8" y="719.3" width="28.5" height="11.0" rx="5.5" fill="#000" opacity="0.4" filter="url(#b3)"/>
<rect x="180.0" y="723.5" width="26.0" height="5.8" rx="2.9" fill="#000" opacity="0.92" filter="url(#b1)"/>
<rect x="181.0" y="725.8" width="24.0" height="3.0" rx="1.5" fill="#000" opacity="0.8" filter="url(#b1)"/>
<rect x="210.0" y="720.5" width="29.0" height="11.0" rx="5.5" fill="#000" opacity="0.4" filter="url(#b3)"/>
<rect x="211.5" y="724.7" width="26.0" height="5.2" rx="2.6" fill="#000" opacity="0.78" filter="url(#b2)"/>
<rect x="242.6" y="721.5" width="28.0" height="10.5" rx="5.2" fill="#000" opacity="0.38" filter="url(#b3)"/>
<rect x="244.1" y="725.6" width="25.0" height="4.8" rx="2.4" fill="#000" opacity="0.74" filter="url(#b2)"/>
<rect x="273.5" y="717.2" width="31.0" height="14.0" rx="7.0" fill="#000" opacity="0.42" filter="url(#b3)"/>
<rect x="274.8" y="723.9" width="28.5" height="7.2" rx="3.6" fill="#000" opacity="1.0" filter="url(#b1)"/>
<rect x="275.5" y="725.4" width="27.0" height="5.2" rx="2.6" fill="#000" opacity="1.0" filter="url(#b1)"/>
<rect x="307.2" y="721.8" width="27.0" height="10.5" rx="5.2" fill="#000" opacity="0.38" filter="url(#b3)"/>
<rect x="308.2" y="725.9" width="25.0" height="5.0" rx="2.5" fill="#000" opacity="0.8" filter="url(#b2)"/>
<rect x="87.5" y="784" width="25" height="15" fill="#f4f4f4" opacity="0.3" filter="url(#b2)"/>
<rect x="107.5" y="755.5" width="5.5" height="10.0" rx="5.0" fill="#000" opacity="0.3" filter="url(#b2)"/>
<rect x="84.0" y="758.0" width="30.0" height="24.0" rx="12.0" fill="#000" opacity="0.28" filter="url(#b3)"/>
<path d="M84 768.5 Q92 765.5 99 763.6 Q108 761.2 112.2 764 Q113.8 771 113 780 Q100 783.4 84 781 Z" fill="#000" filter="url(#b2)"/>
<path d="M84 770 Q93 767 100 765.4 Q107 763.8 111 766 L112 779.5 Q100 781.8 84 779.8 Z" fill="#000" filter="url(#b1)"/>
<rect x="108" y="774.8" width="228" height="4.6" fill="#000" opacity="0.85" filter="url(#b1)"/>
<rect x="113.5" y="766.6" width="32.0" height="18.0" rx="9.0" fill="#000" opacity="0.3" filter="url(#b3)"/>
<rect x="114.5" y="769.6" width="30.0" height="12.0" rx="6.0" fill="#000" opacity="1.0" filter="url(#b1)"/>
<rect x="115.2" y="770.7" width="28.5" height="9.8" rx="4.9" fill="#000" opacity="1.0" filter="url(#b1)"/>
<rect x="145.1" y="768.1" width="31.6" height="17.6" rx="8.8" fill="#000" opacity="0.3" filter="url(#b3)"/>
<rect x="146.1" y="771.1" width="29.6" height="11.6" rx="5.8" fill="#000" opacity="1.0" filter="url(#b1)"/>
<rect x="146.8" y="772.2" width="28.1" height="9.4" rx="4.7" fill="#000" opacity="1.0" filter="url(#b1)"/>
<rect x="176.8" y="768.5" width="31.8" height="17.2" rx="8.6" fill="#000" opacity="0.3" filter="url(#b3)"/>
<rect x="177.8" y="771.5" width="29.8" height="11.2" rx="5.6" fill="#000" opacity="1.0" filter="url(#b1)"/>
<rect x="178.6" y="772.6" width="28.3" height="9.0" rx="4.5" fill="#000" opacity="1.0" filter="url(#b1)"/>
<rect x="208.8" y="767.9" width="32.4" height="18.4" rx="9.2" fill="#000" opacity="0.3" filter="url(#b3)"/>
<rect x="209.8" y="770.9" width="30.4" height="12.4" rx="6.2" fill="#000" opacity="1.0" filter="url(#b1)"/>
<rect x="210.6" y="772.0" width="28.9" height="10.2" rx="5.1" fill="#000" opacity="1.0" filter="url(#b1)"/>
<rect x="240.1" y="767.6" width="33.4" height="18.6" rx="9.3" fill="#000" opacity="0.3" filter="url(#b3)"/>
<rect x="241.1" y="770.6" width="31.4" height="12.6" rx="6.3" fill="#000" opacity="1.0" filter="url(#b1)"/>
<rect x="241.9" y="771.7" width="29.9" height="10.4" rx="5.2" fill="#000" opacity="1.0" filter="url(#b1)"/>
<rect x="272.6" y="767.8" width="32.4" height="18.6" rx="9.3" fill="#000" opacity="0.3" filter="url(#b3)"/>
<rect x="273.6" y="770.8" width="30.4" height="12.6" rx="6.3" fill="#000" opacity="1.0" filter="url(#b1)"/>
<rect x="274.4" y="771.9" width="28.9" height="10.4" rx="5.2" fill="#000" opacity="1.0" filter="url(#b1)"/>
<rect x="304.8" y="767.9" width="32.4" height="18.4" rx="9.2" fill="#000" opacity="0.3" filter="url(#b3)"/>
<rect x="305.8" y="770.9" width="30.4" height="12.4" rx="6.2" fill="#000" opacity="1.0" filter="url(#b1)"/>
<rect x="306.6" y="772.0" width="28.9" height="10.2" rx="5.1" fill="#000" opacity="1.0" filter="url(#b1)"/>
<path d="M86 783.2 Q125 786 170 788.6" stroke="#fff" stroke-width="1.8" fill="none" opacity="0.95" filter="url(#b1)"/>
<rect x="92.0" y="794.3" width="14.0" height="1.8" rx="0.9" fill="#000" opacity="0.2" filter="url(#b1)"/>
</g>
<rect x="87.5" y="668.8" width="248.5" height="20.700000000000045" fill="none" stroke="#111" stroke-width="1.3"/>
<rect x="87.5" y="696.3" width="248.5" height="49.5" fill="none" stroke="#111" stroke-width="1.3"/>
<rect x="87.5" y="753.0" width="248.5" height="45.299999999999955" fill="none" stroke="#111" stroke-width="1.3"/>
</svg>
</body></html>
